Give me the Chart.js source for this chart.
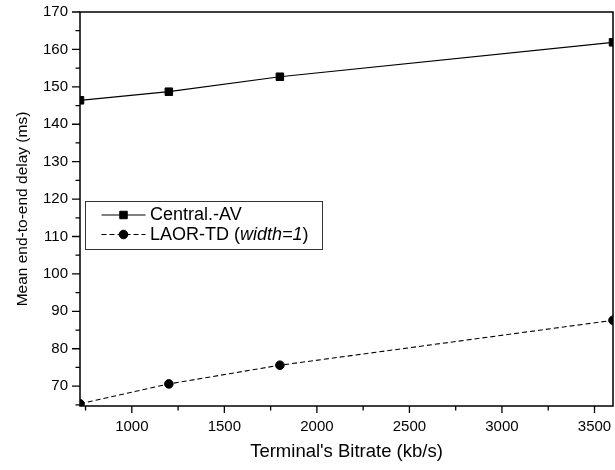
<!DOCTYPE html>
<html><head><meta charset="utf-8">
<script src="https://cdn.jsdelivr.net/npm/chart.js@4.4.1/dist/chart.umd.min.js"></script>
<style>html,body{margin:0;padding:0;background:#fff;}#wrap{width:615px;height:470px;}</style>
</head><body><div id="wrap"><canvas id="c" width="615" height="470"></canvas></div>
<script>
// ---- data ----
const bitrates = [720, 1200, 1800, 3600];
const centralAV = [146.4, 148.7, 152.7, 161.9];
const laorTD = [65.3, 70.6, 75.6, 87.6];
const xTickValues = [750, 1000, 1250, 1500, 1750, 2000, 2250, 2500, 2750, 3000, 3250, 3500];
const yTickValues = [65, 70, 75, 80, 85, 90, 95, 100, 105, 110, 115, 120, 125, 130, 135, 140, 145, 150, 155, 160, 165, 170];
const seriesNames = ['Central.-AV', 'LAOR-TD (width=1)'];
const legendParts = [
  [{t: 'Central.-AV'}],
  [{t: 'LAOR-TD ('}, {t: 'width=1', i: true}, {t: ')'}]
];

const FONT = '"Liberation Sans", Arial, Helvetica, sans-serif';

const framePlugin = {
  id: 'frame',
  afterDraw(chart) {
    const ctx = chart.ctx, a = chart.chartArea;
    const xs = chart.scales.x, ys = chart.scales.y;
    ctx.save();
    ctx.strokeStyle = '#000';
    ctx.lineWidth = 1.5;
    ctx.strokeRect(a.left, a.top, a.right - a.left, a.bottom - a.top);
    ctx.lineWidth = 1.3;
    ctx.beginPath();
    xs.ticks.forEach(t => {
      const px = xs.getPixelForValue(t.value);
      const len = t.value % 500 === 0 ? 7 : 4.5;
      ctx.moveTo(px, a.bottom);
      ctx.lineTo(px, a.bottom + len);
    });
    ys.ticks.forEach(t => {
      const py = ys.getPixelForValue(t.value);
      const len = t.value % 10 === 0 ? 8 : 4.5;
      ctx.moveTo(a.left, py);
      ctx.lineTo(a.left - len, py);
    });
    ctx.stroke();

    // legend
    const bx = a.left + 5.5, by = a.top + 189.5, bw = 237, bh = 48;
    ctx.fillStyle = '#fff';
    ctx.fillRect(bx, by, bw, bh);
    ctx.strokeStyle = '#333';
    ctx.lineWidth = 1;
    ctx.strokeRect(bx, by, bw, bh);
    chart.data.datasets.forEach((ds, i) => {
      const yy = by + 13.5 + i * 19.5;
      ctx.save();
      ctx.strokeStyle = ds.borderColor;
      ctx.lineWidth = ds.borderWidth;
      ctx.setLineDash(ds.borderDash || []);
      ctx.beginPath();
      ctx.moveTo(bx + 16, yy);
      ctx.lineTo(bx + 60, yy);
      ctx.stroke();
      ctx.setLineDash([]);
      ctx.fillStyle = ds.backgroundColor;
      ctx.strokeStyle = ds.borderColor;
      ctx.lineWidth = 1;
      Chart.helpers.drawPoint(ctx, {pointStyle: ds.pointStyle, radius: ds.pointRadius, rotation: 0, borderWidth: 1}, bx + 38, yy);
      ctx.restore();
      let tx = bx + 64.5;
      ctx.fillStyle = '#000';
      ctx.textBaseline = 'middle';
      ctx.textAlign = 'left';
      legendParts[i].forEach(p => {
        ctx.font = (p.i ? 'italic ' : '') + '18px ' + FONT;
        ctx.fillText(p.t, tx, yy + 0.5);
        tx += ctx.measureText(p.t).width;
      });
    });
    ctx.restore();
  }
};

const toPoints = (xs, ys) => xs.map((x, i) => ({x: x, y: ys[i]}));
const zeroPad = s => { s.paddingLeft = 0; s.paddingRight = 0; s.paddingTop = 0; s.paddingBottom = 0; };

new Chart(document.getElementById('c'), {
  type: 'line',
  data: {
    datasets: [
      {
        label: seriesNames[0],
        data: toPoints(bitrates, centralAV),
        borderColor: '#000', backgroundColor: '#000', borderWidth: 1.2,
        pointStyle: 'rect', pointRadius: 5.3, pointHoverRadius: 5.3, pointBorderWidth: 1,
        tension: 0, clip: 0
      },
      {
        label: seriesNames[1],
        data: toPoints(bitrates, laorTD),
        borderColor: '#000', backgroundColor: '#000', borderWidth: 1.1, borderDash: [5, 3],
        pointStyle: 'circle', pointRadius: 4.3, pointHoverRadius: 4.3, pointBorderWidth: 1,
        tension: 0, clip: 0
      }
    ]
  },
  options: {
    responsive: false, animation: false, events: [],
    layout: {autoPadding: false, padding: {top: 12, right: 2, left: 0, bottom: 0}},
    plugins: {legend: {display: false}, tooltip: {enabled: false}},
    scales: {
      x: {
        type: 'linear', min: 720, max: 3600,
        afterBuildTicks: s => { s.ticks = xTickValues.map(v => ({value: v})); },
        afterFit: s => { s.height = 64; zeroPad(s); },
        grid: {display: false, drawTicks: false}, border: {display: false},
        ticks: {
          autoSkip: false, maxRotation: 0, padding: 12, color: '#000',
          font: {family: FONT, size: 15},
          callback: v => (v % 500 === 0 ? String(v) : '')
        },
        title: {display: true, text: "Terminal's Bitrate (kb/s)", color: '#000',
          font: {family: FONT, size: 18.5}, padding: {top: 0, bottom: 7}}
      },
      y: {
        type: 'linear', min: 64.7, max: 170,
        afterBuildTicks: s => { s.ticks = yTickValues.map(v => ({value: v})); },
        afterFit: s => { s.width = 80; zeroPad(s); },
        grid: {display: false, drawTicks: false}, border: {display: false},
        ticks: {
          autoSkip: false, padding: 12, color: '#000',
          font: {family: FONT, size: 15},
          callback: v => (v % 10 === 0 ? String(v) : '')
        },
        title: {display: true, text: 'Mean end-to-end delay (ms)', color: '#000',
          font: {family: FONT, size: 15.5}, padding: {top: 13.5, bottom: 0}}
      }
    }
  },
  plugins: [framePlugin]
});
</script>
</body></html>
